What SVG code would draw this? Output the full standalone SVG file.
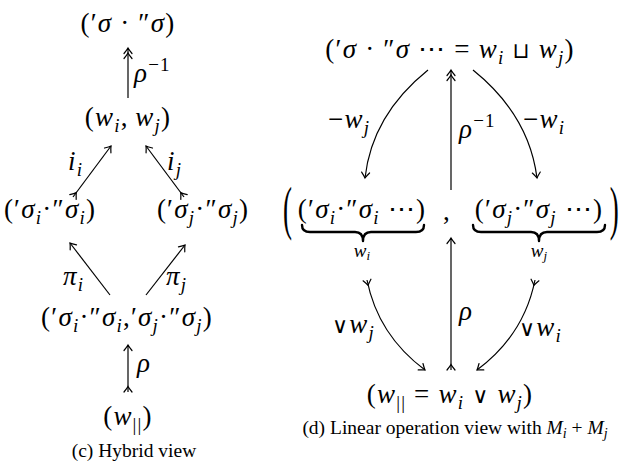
<svg xmlns="http://www.w3.org/2000/svg" width="621" height="471" viewBox="0 0 621 471">
<style>
.m{font-family:"Liberation Serif","DejaVu Serif",serif;font-size:27px;fill:#000;letter-spacing:1.2px}
.i{font-style:italic}
.sb{font-size:19px;font-style:italic}
.su{font-size:19px}
.op{font-family:"DejaVu Sans",sans-serif;font-size:22px;font-weight:normal}
.lb{font-family:"Liberation Serif","DejaVu Serif",serif;font-size:19px;fill:#000;font-style:italic}
.cap{font-family:"Liberation Serif","DejaVu Serif",serif;font-size:19.5px;fill:#000}
.cs{font-size:14px;font-style:italic}
.ln{fill:none;stroke:#000;stroke-width:1.2}
.br{fill:none;stroke:#000;stroke-width:2.4;stroke-linecap:round;stroke-linejoin:round}
</style>
<defs>
<marker id="hd" markerUnits="userSpaceOnUse" viewBox="-10 -6 12 12" refX="0" refY="0" markerWidth="12" markerHeight="12" orient="auto" overflow="visible">
<path d="M-5.5,-4 Q-1.8,-1 0,0 Q-1.8,1 -5.5,4" fill="none" stroke="#000" stroke-width="1.2" stroke-linecap="round"/>
</marker>
<marker id="dh" markerUnits="userSpaceOnUse" viewBox="-14 -6 16 12" refX="0" refY="0" markerWidth="16" markerHeight="12" orient="auto" overflow="visible">
<path d="M-5.5,-4 Q-1.8,-1 0,0 Q-1.8,1 -5.5,4 M-10.5,-4 Q-6.8,-1 -5,0 Q-6.8,1 -10.5,4" fill="none" stroke="#000" stroke-width="1.2" stroke-linecap="round"/>
</marker>
<marker id="tl" markerUnits="userSpaceOnUse" viewBox="-2 -6 10 12" refX="0" refY="0" markerWidth="10" markerHeight="12" orient="auto" overflow="visible">
<path d="M0,-4 Q3.7,-1 5.5,0 Q3.7,1 0,4" fill="none" stroke="#000" stroke-width="1.2" stroke-linecap="round"/>
</marker>
</defs>

<g id="connectors">
<line class="ln" x1="128" y1="98" x2="128" y2="48" marker-end="url(#dh)"/>
<line class="ln" x1="73" y1="197" x2="111" y2="146" marker-start="url(#tl)" marker-end="url(#hd)"/>
<line class="ln" x1="184" y1="197" x2="146" y2="146" marker-start="url(#tl)" marker-end="url(#hd)"/>
<line class="ln" x1="110" y1="295" x2="70" y2="243" marker-end="url(#hd)"/>
<line class="ln" x1="146" y1="295" x2="185" y2="245" marker-end="url(#hd)"/>
<line class="ln" x1="128" y1="392" x2="128" y2="345" marker-start="url(#tl)" marker-end="url(#hd)"/>
<path class="ln" d="M428,70 Q372,115 365,178" marker-end="url(#hd)"/>
<path class="ln" d="M473,70 Q529,115 537,178" marker-end="url(#hd)"/>
<line class="ln" x1="451" y1="190" x2="451" y2="70" marker-end="url(#dh)"/>
<line class="ln" x1="451" y1="370" x2="451" y2="238" marker-start="url(#tl)" marker-end="url(#hd)"/>
<path class="ln" d="M367,280 Q378,335 425,370" marker-start="url(#tl)" marker-end="url(#hd)"/>
<path class="ln" d="M535,280 Q524,335 477,370" marker-start="url(#tl)" marker-end="url(#hd)"/>
</g>

<g id="labels">
<text class="m" x="134" y="82"><tspan class="i">ρ</tspan><tspan class="su" dy="-11">−1</tspan></text>
<text class="m" x="68" y="170"><tspan class="i">i</tspan><tspan class="sb" dy="6">i</tspan></text>
<text class="m" x="167" y="170"><tspan class="i">i</tspan><tspan class="sb" dy="6">j</tspan></text>
<text class="m" x="63" y="285"><tspan class="i">π</tspan><tspan class="sb" dy="6">i</tspan></text>
<text class="m" x="166" y="285"><tspan class="i">π</tspan><tspan class="sb" dy="6">j</tspan></text>
<text class="m" x="137" y="372"><tspan class="i">ρ</tspan></text>
<text class="m" x="328" y="128">−<tspan class="i">w</tspan><tspan class="sb" dy="6">j</tspan></text>
<text class="m" x="523" y="128">−<tspan class="i">w</tspan><tspan class="sb" dy="6">i</tspan></text>
<text class="m" x="459" y="138"><tspan class="i">ρ</tspan><tspan class="su" dy="-11">−1</tspan></text>
<text class="m" x="459" y="320"><tspan class="i">ρ</tspan></text>
<text class="m" x="332" y="333"><tspan class="op">∨</tspan><tspan class="i">w</tspan><tspan class="sb" dy="6">j</tspan></text>
<text class="m" x="519" y="336"><tspan class="op">∨</tspan><tspan class="i">w</tspan><tspan class="sb" dy="6">i</tspan></text>
</g>

<g id="n-top-left"><text class="m" x="128" y="32" text-anchor="middle">(′<tspan class="i">σ</tspan> · ″<tspan class="i">σ</tspan>)</text></g>
<g id="n-wiwj"><text class="m" x="128" y="126" text-anchor="middle">(<tspan class="i">w</tspan><tspan class="sb" dy="6">i</tspan><tspan dy="-6">,&#8201;</tspan><tspan class="i">w</tspan><tspan class="sb" dy="6">j</tspan><tspan dy="-6">)</tspan></text></g>
<g id="n-si"><text class="m" x="50" y="218" text-anchor="middle">(′<tspan class="i">σ</tspan><tspan class="sb" dy="6">i</tspan><tspan dy="-6">·″</tspan><tspan class="i">σ</tspan><tspan class="sb" dy="6">i</tspan><tspan dy="-6">)</tspan></text></g>
<g id="n-sj"><text class="m" x="203" y="218" text-anchor="middle">(′<tspan class="i">σ</tspan><tspan class="sb" dy="6">j</tspan><tspan dy="-6">·″</tspan><tspan class="i">σ</tspan><tspan class="sb" dy="6">j</tspan><tspan dy="-6">)</tspan></text></g>
<g id="n-pair"><text class="m" x="127" y="326" text-anchor="middle">(′<tspan class="i">σ</tspan><tspan class="sb" dy="6">i</tspan><tspan dy="-6">·″</tspan><tspan class="i">σ</tspan><tspan class="sb" dy="6">i</tspan><tspan dy="-6">,′</tspan><tspan class="i">σ</tspan><tspan class="sb" dy="6">j</tspan><tspan dy="-6">·″</tspan><tspan class="i">σ</tspan><tspan class="sb" dy="6">j</tspan><tspan dy="-6">)</tspan></text></g>
<g id="n-wpar-left"><text class="m" x="128" y="425" text-anchor="middle">(<tspan class="i">w</tspan><tspan class="su" dy="6">||</tspan><tspan dy="-6">)</tspan></text></g>
<g id="cap-c"><text class="cap" x="134" y="457" text-anchor="middle">(c) Hybrid view</text></g>

<g id="n-top-right"><text class="m" x="450" y="58" text-anchor="middle">(′<tspan class="i">σ</tspan> · ″<tspan class="i">σ</tspan> ⋯ = <tspan class="i">w</tspan><tspan class="sb" dy="6">i</tspan><tspan dy="-6"> </tspan><tspan class="op">⊔</tspan> <tspan class="i">w</tspan><tspan class="sb" dy="6">j</tspan><tspan dy="-6">)</tspan></text></g>
<g id="n-middle">
<text class="m" transform="translate(283,228) scale(1,2.2)" x="0" y="0">(</text>
<text class="m" transform="translate(620,228) scale(1,2.2)" x="0" y="0" text-anchor="end">)</text>
<text class="m" x="362" y="218" text-anchor="middle">(′<tspan class="i">σ</tspan><tspan class="sb" dy="6">i</tspan><tspan dy="-6">·″</tspan><tspan class="i">σ</tspan><tspan class="sb" dy="6">i</tspan><tspan dy="-6"> ⋯)</tspan></text>
<text class="m" x="447" y="220" text-anchor="middle">,</text>
<text class="m" x="539" y="218" text-anchor="middle">(′<tspan class="i">σ</tspan><tspan class="sb" dy="6">j</tspan><tspan dy="-6">·″</tspan><tspan class="i">σ</tspan><tspan class="sb" dy="6">j</tspan><tspan dy="-6"> ⋯)</tspan></text>
<path class="br" d="M302,225 Q302,232 310,232 L355,232 Q363,232 363,241 Q363,232 371,232 L416,232 Q424,232 424,225"/>
<path class="br" d="M473,225 Q473,232 481,232 L531,232 Q539,232 539,241 Q539,232 547,232 L597,232 Q605,232 605,225"/>
<text class="lb" x="362" y="257" text-anchor="middle">w<tspan font-size="13" dy="3">i</tspan></text>
<text class="lb" x="539" y="257" text-anchor="middle">w<tspan font-size="13" dy="3">j</tspan></text>
</g>
<g id="n-bottom-right"><text class="m" x="450" y="403" text-anchor="middle">(<tspan class="i">w</tspan><tspan class="su" dy="6">||</tspan><tspan dy="-6"> = </tspan><tspan class="i">w</tspan><tspan class="sb" dy="6">i</tspan><tspan dy="-6"> </tspan><tspan class="op">∨</tspan> <tspan class="i">w</tspan><tspan class="sb" dy="6">j</tspan><tspan dy="-6">)</tspan></text></g>
<g id="cap-d"><text class="cap" x="455" y="434" text-anchor="middle" font-size="20">(d) Linear operation view with <tspan font-style="italic">M</tspan><tspan class="cs" dy="4">i</tspan><tspan dy="-4"> + </tspan><tspan font-style="italic">M</tspan><tspan class="cs" dy="4">j</tspan></text></g>
</svg>
